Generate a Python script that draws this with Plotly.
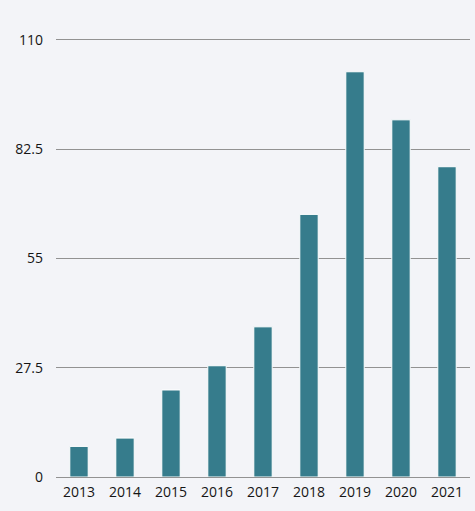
import plotly.graph_objects as go

years = ["2013", "2014", "2015", "2016", "2017", "2018", "2019", "2020", "2021"]
values = [7.7, 9.8, 21.9, 28.0, 37.8, 66.1, 102.0, 89.9, 78.1]
y_ticks = [0, 27.5, 55, 82.5, 110]
y_tick_labels = ["0", "27.5", "55", "82.5", "110"]

fig = go.Figure()
fig.add_trace(go.Bar(
    x=years, y=values,
    marker=dict(color="#367c8c", line=dict(color="#ffffff", width=1)),
    hoverinfo="x+y",
))

fig.update_layout(
    width=475, height=511,
    margin=dict(l=56, r=5, t=38, b=34),
    paper_bgcolor="#f3f4f8",
    plot_bgcolor="#f3f4f8",
    bargap=0.6,
    showlegend=False,
    font=dict(family="Open Sans, Liberation Sans, sans-serif", size=14, color="#151515"),
)
fig.update_xaxes(
    type="category", showgrid=False, showline=False, zeroline=False,
    ticks="", ticklabelstandoff=5,
)
fig.update_yaxes(
    range=[0, 110.5], tickvals=y_ticks, ticktext=y_tick_labels,
    showgrid=True, gridcolor="#929292", gridwidth=1,
    zeroline=True, zerolinecolor="#929292", zerolinewidth=1,
    showline=False, ticks="", ticklabelstandoff=12,
)

fig.write_html(
    "out.html",
    config={"displayModeBar": False},
    post_script="document.body.style.margin='0';document.body.style.background='#f3f4f8';",
)
